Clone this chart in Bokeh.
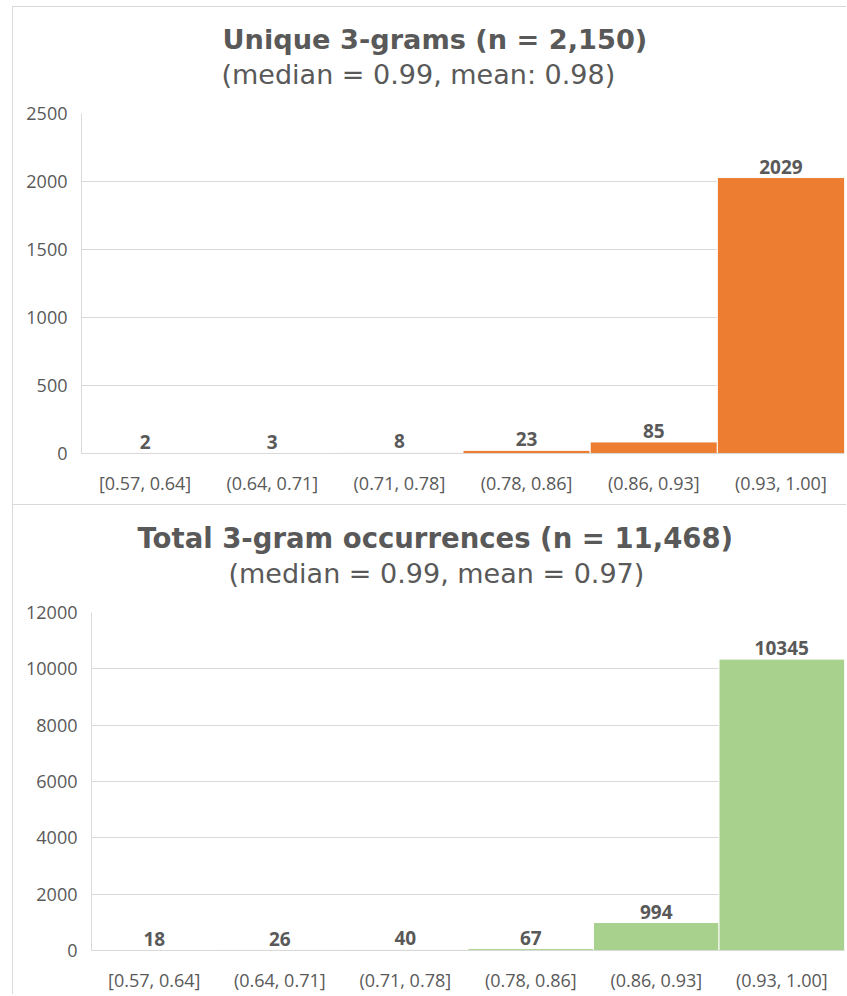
from bokeh.plotting import figure
from bokeh.models import FactorRange, Range1d, FixedTicker, NumeralTickFormatter, Title
from bokeh.core.properties import value
from bokeh.embed import file_html
from bokeh.resources import INLINE

# Histogram bins shared by both panels
bins = ["[0.57, 0.64]", "(0.64, 0.71]", "(0.71, 0.78]", "(0.78, 0.86]", "(0.86, 0.93]", "(0.93, 1.00]"]

# Unique 3-grams per bin
unique_counts = [2, 3, 8, 23, 85, 2029]
unique_ticks = [0, 500, 1000, 1500, 2000, 2500]
unique_title = "Unique 3-grams (n = 2,150)"
unique_subtitle = "(median = 0.99, mean: 0.98)"

# Total 3-gram occurrences per bin
total_counts = [18, 26, 40, 67, 994, 10345]
total_ticks = [0, 2000, 4000, 6000, 8000, 10000, 12000]
total_title = "Total 3-gram occurrences (n = 11,468)"
total_subtitle = "(median = 0.99, mean = 0.97)"

TEXT = "#595959"
GRID = "#d9d9d9"
TICK_FONT = "Open Sans"
TITLE_FONT = "DejaVu Sans"
BOX = "1px solid #d9d9d9"


def histogram(counts, ticks, color, height, borders, margin):
    left, right, top, bottom = borders
    p = figure(
        width=834, height=height,
        x_range=FactorRange(*bins, range_padding=0),
        y_range=Range1d(ticks[0], ticks[-1]),
        output_backend="svg", toolbar_location=None,
        min_border_left=left, min_border_right=right,
        min_border_top=top, min_border_bottom=bottom,
        background_fill_color="white", border_fill_color="white",
        outline_line_color=None,
        margin=margin,
        styles={"border-top": BOX, "border-left": BOX},
    )
    p.vbar(x=bins, top=counts, width=1.0, fill_color=color,
           line_color="white", line_width=1)
    p.text(x=bins, y=counts, text=[str(c) for c in counts],
           y_offset=-11, text_align="center", text_baseline="alphabetic",
           text_font=value(TICK_FONT), text_font_style="bold",
           text_font_size="19px", text_color=TEXT)

    p.xgrid.grid_line_color = None
    p.ygrid.grid_line_color = GRID
    p.ygrid.grid_line_width = 1

    p.yaxis.ticker = FixedTicker(ticks=ticks)
    p.yaxis.formatter = NumeralTickFormatter(format="0")
    for ax in (p.xaxis[0], p.yaxis[0]):
        ax.axis_line_color = GRID
        ax.major_tick_line_color = None
        ax.minor_tick_line_color = None
        ax.major_tick_out = 0
        ax.major_tick_in = 0
        ax.major_label_text_font = TICK_FONT
        ax.major_label_text_font_size = "18px"
        ax.major_label_text_color = TEXT
    p.yaxis.major_label_standoff = 14
    p.xaxis.major_label_standoff = 17
    return p


def heading(p, title, subtitle, title_offset, subtitle_offset, size, line_height=0.75):
    # subtitle carries a blank second line that keeps it clear of the plot area
    p.add_layout(Title(text=subtitle + "\n", align="left", offset=subtitle_offset, standoff=0,
                       text_font=TITLE_FONT, text_font_style="normal",
                       text_line_height=line_height,
                       text_font_size="27px", text_color=TEXT), "above")
    p.add_layout(Title(text=title, align="left", offset=title_offset, standoff=5,
                       text_font=TITLE_FONT, text_font_style="bold",
                       text_font_size=size, text_color=TEXT), "above")


p1 = histogram(unique_counts, unique_ticks, "#ED7D31",
               height=498, borders=(68, 3, 106, 52), margin=(6, 0, 0, 12))
heading(p1, unique_title, unique_subtitle, 141, 140, "27.2px")

p2 = histogram(total_counts, total_ticks, "#A9D18E",
               height=490, borders=(78, 3, 107, 45), margin=(0, 0, 0, 12))
heading(p2, total_title, total_subtitle, 46, 137, "27.5px")

with open("out.html", "w") as f:
    f.write(file_html([p1, p2], INLINE))
